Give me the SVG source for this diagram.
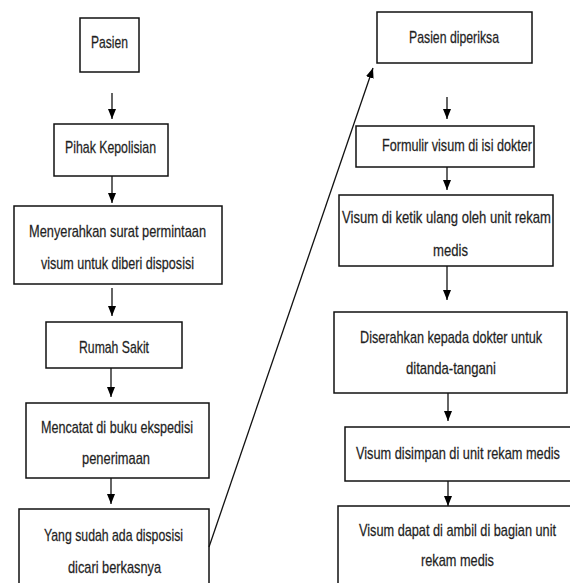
<svg xmlns="http://www.w3.org/2000/svg" width="570" height="583" viewBox="0 0 570 583">
<defs>
<marker id="ah" markerUnits="userSpaceOnUse" markerWidth="10" markerHeight="10" viewBox="0 0 10 10" refX="10" refY="5" orient="auto">
<path d="M0,1 L10,5 L0,9 Z" fill="#000"/>
</marker>
<style>
rect{fill:#fff;stroke:#111;stroke-width:1.5}
text{font-family:"Liberation Sans",Arial,sans-serif;font-size:16px;fill:#1a1a1a;stroke:#333;stroke-width:0.25;text-anchor:middle}
.c line{stroke:#111;stroke-width:1.3;marker-end:url(#ah)}
</style>
</defs>
<rect x="0" y="0" width="570" height="583" style="fill:#fff;stroke:none"/>
<g id="n1"><rect x="80" y="18" width="59" height="54"/><text transform="translate(109.5,0) scale(0.8,1)" x="0" y="48" textLength="46.25" lengthAdjust="spacingAndGlyphs">Pasien</text></g>
<g id="n2"><rect x="54" y="124" width="114" height="52"/><text transform="translate(110.5,0) scale(0.8,1)" x="0" y="153" textLength="113.75" lengthAdjust="spacingAndGlyphs">Pihak Kepolisian</text></g>
<g id="n3"><rect x="14" y="206" width="208" height="78"/><text transform="translate(117.5,0) scale(0.8,1)" x="0" y="237" textLength="221.25" lengthAdjust="spacingAndGlyphs">Menyerahkan surat permintaan</text><text transform="translate(117.5,0) scale(0.8,1)" x="0" y="269" textLength="191.25" lengthAdjust="spacingAndGlyphs">visum untuk diberi disposisi</text></g>
<g id="n4"><rect x="46" y="322" width="136" height="46"/><text transform="translate(114,0) scale(0.8,1)" x="0" y="353" textLength="87.5" lengthAdjust="spacingAndGlyphs">Rumah Sakit</text></g>
<g id="n5"><rect x="26" y="403" width="183" height="75"/><text transform="translate(117,0) scale(0.8,1)" x="0" y="433" textLength="190" lengthAdjust="spacingAndGlyphs">Mencatat di buku ekspedisi</text><text transform="translate(116,0) scale(0.8,1)" x="0" y="464" textLength="85" lengthAdjust="spacingAndGlyphs">penerimaan</text></g>
<g id="n6"><rect x="19" y="509" width="190" height="90"/><text transform="translate(113.5,0) scale(0.8,1)" x="0" y="541" textLength="173.75" lengthAdjust="spacingAndGlyphs">Yang sudah ada disposisi</text><text transform="translate(114.5,0) scale(0.8,1)" x="0" y="573" textLength="116.25" lengthAdjust="spacingAndGlyphs">dicari berkasnya</text></g>
<g id="n7"><rect x="377" y="12" width="155" height="51"/><text transform="translate(454,0) scale(0.8,1)" x="0" y="43" textLength="112.5" lengthAdjust="spacingAndGlyphs">Pasien diperiksa</text></g>
<g id="n8"><rect x="356" y="126" width="178" height="41"/><text transform="translate(457,0) scale(0.8,1)" x="0" y="151" textLength="187.5" lengthAdjust="spacingAndGlyphs">Formulir visum di isi dokter</text></g>
<g id="n9"><rect x="339" y="195" width="214" height="71"/><text transform="translate(446.5,0) scale(0.8,1)" x="0" y="223" textLength="261.25" lengthAdjust="spacingAndGlyphs">Visum di ketik ulang oleh unit rekam</text><text transform="translate(450.5,0) scale(0.8,1)" x="0" y="256" textLength="43.75" lengthAdjust="spacingAndGlyphs">medis</text></g>
<g id="n10"><rect x="334" y="312" width="233" height="81"/><text transform="translate(451,0) scale(0.8,1)" x="0" y="343" textLength="227.5" lengthAdjust="spacingAndGlyphs">Diserahkan kepada dokter untuk</text><text transform="translate(451,0) scale(0.8,1)" x="0" y="374" textLength="112.5" lengthAdjust="spacingAndGlyphs">ditanda-tangani</text></g>
<g id="n11"><rect x="345" y="427" width="240" height="54"/><text transform="translate(458,0) scale(0.8,1)" x="0" y="459" textLength="255" lengthAdjust="spacingAndGlyphs">Visum disimpan di unit rekam medis</text></g>
<g id="n12"><rect x="338" y="506" width="240" height="90"/><text transform="translate(457.5,0) scale(0.8,1)" x="0" y="536" textLength="246.25" lengthAdjust="spacingAndGlyphs">Visum dapat di ambil di bagian unit</text><text transform="translate(457.5,0) scale(0.8,1)" x="0" y="566" textLength="91.25" lengthAdjust="spacingAndGlyphs">rekam medis</text></g>
<g id="connectors" class="c">
<line x1="112" y1="93" x2="112" y2="119"/>
<line x1="112" y1="176" x2="112" y2="203"/>
<line x1="112" y1="288" x2="112" y2="316"/>
<line x1="111" y1="368" x2="111" y2="397"/>
<line x1="111" y1="478" x2="111" y2="504"/>
<line x1="209" y1="547" x2="373" y2="68"/>
<line x1="447" y1="97" x2="447" y2="119"/>
<line x1="447" y1="167" x2="447" y2="190"/>
<line x1="447" y1="266" x2="447" y2="300"/>
<line x1="448" y1="393" x2="448" y2="421"/>
<line x1="448" y1="481" x2="448" y2="506"/>
</g>
</svg>
